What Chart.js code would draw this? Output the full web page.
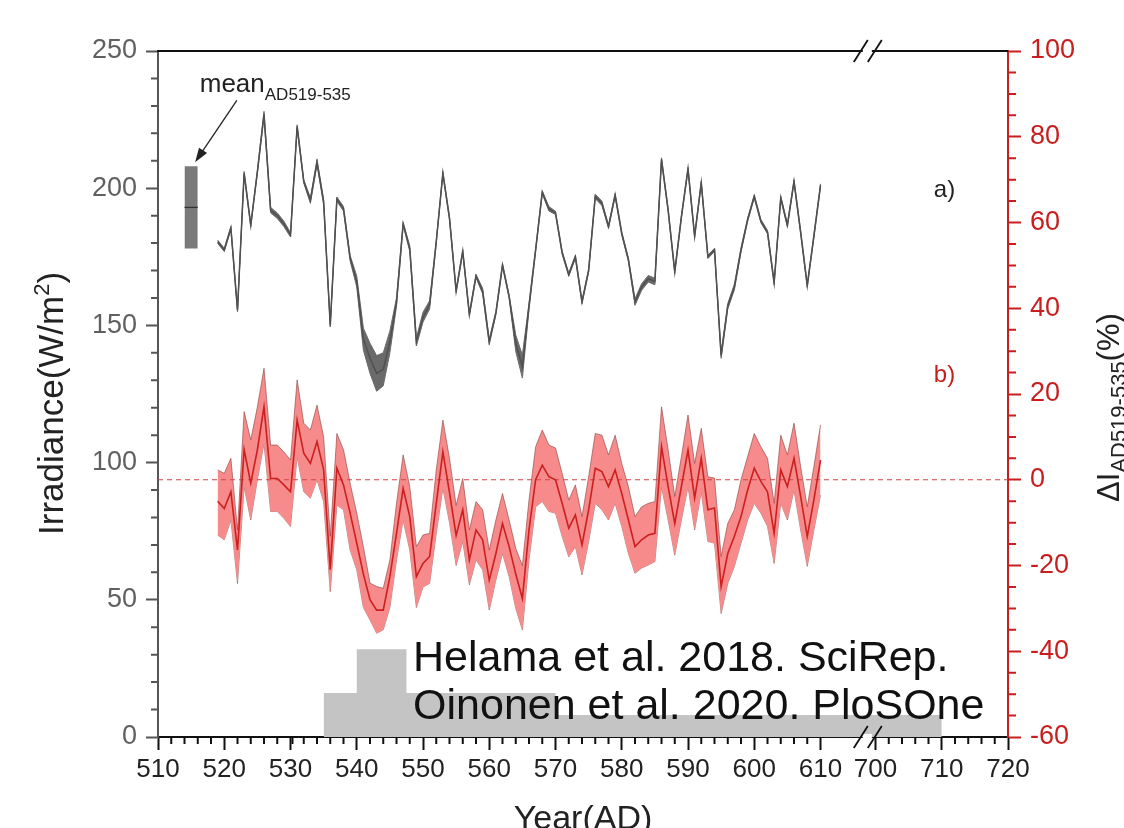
<!DOCTYPE html>
<html>
<head>
<meta charset="utf-8">
<script src="https://cdn.jsdelivr.net/npm/chart.js@4.4.1/dist/chart.umd.min.js"></script>
<style>
  html, body { margin: 0; padding: 0; background: #fff; overflow: hidden; }
  canvas { display: block; }
</style>
</head>
<body>
<canvas id="chart" width="1124" height="828"></canvas>
<script>
const FONT = '"Liberation Sans", Arial, Helvetica, sans-serif';

// ---- data (years 519..610, one value per year) ----
const firstYear = 519;
const irradiance = [180.5, 177.5, 185.5, 155.5, 205.5, 186.5, 206, 227, 192, 190, 187, 183, 222.5, 202.5, 195.5, 209.5, 195, 150, 196, 192.5,
  174.5, 166, 145, 138, 132.5, 134, 144, 158.5, 187, 178, 144, 153, 157.5, 180.5, 205.5, 189, 162.5, 177, 154, 168,
  162.5, 144, 154.5, 172, 160.5, 143.5, 135, 157, 177.5, 198.5, 192.5, 191, 176.5, 168.5, 175, 158.5, 170, 197, 194.5, 186,
  197.5, 183.5, 174, 158.5, 164, 167, 166, 210.5, 192, 169.5, 189.5, 207, 182.5, 202, 175, 177.5, 139, 157, 164, 177.5,
  188.5, 197, 188, 184, 165.5, 196.5, 186.5, 202.5, 184, 164.5, 182.5, 201];
const irradianceHi = [181.1, 178.1, 186.1, 156.1, 206.1, 187.1, 206.6, 228, 193, 191, 188, 183.8, 223.1, 203.1, 196.5, 210.5, 196, 150.6, 196.8, 193.3,
  175.5, 168, 149, 143.5, 139, 140, 148, 160, 187.6, 179, 145.5, 154.8, 159, 181.1, 206.1, 189.6, 163.1, 177.6, 154.6, 168.6,
  163.5, 145, 155.1, 172.6, 161.1, 146.5, 139.2, 158.2, 178.1, 199.1, 193.3, 191.6, 177.1, 169.1, 175.6, 159.1, 170.6, 197.8, 195.3, 186.6,
  198.1, 184.1, 174.6, 159.7, 165.2, 168.2, 167.2, 211.1, 192.6, 170.1, 190.1, 207.6, 183.1, 202.6, 175.6, 178.1, 140, 158, 165, 178.3,
  189.1, 197.6, 188.6, 184.6, 166.1, 197.1, 187.1, 203.1, 184.6, 165.1, 183.1, 201.6];
const irradianceLo = [179.9, 176.9, 184.9, 154.9, 204.9, 185.9, 205.4, 226, 191, 189, 186, 182.2, 221.9, 201.9, 194.5, 208.5, 194, 149.4, 195.2, 191.7,
  173.5, 164, 141, 132.5, 126, 128, 140, 157, 186.4, 177, 142.5, 151.2, 156, 179.9, 204.9, 188.4, 161.9, 176.4, 153.4, 167.4,
  161.5, 143, 153.9, 171.4, 159.9, 140.5, 130.8, 155.8, 176.9, 197.9, 191.7, 190.4, 175.9, 167.9, 174.4, 157.9, 169.4, 196.2, 193.7, 185.4,
  196.9, 182.9, 173.4, 157.3, 162.8, 165.8, 164.8, 209.9, 191.4, 168.9, 188.9, 206.4, 181.9, 201.4, 174.4, 176.9, 138, 156, 163, 176.7,
  187.9, 196.4, 187.4, 183.4, 164.9, 195.9, 185.9, 201.9, 183.4, 163.9, 181.9, 200.4];

const deltaMid = [-5, -6.7, -2.8, -16.4, 7, -0.8, 7, 17, 0.3, 0.3, -1.2, -2.8, 13.9, 6.2, 3.8, 8.9, 2.3, -21, 2.7, -1.2,
  -7.8, -14.8, -22, -28, -30.4, -30.4, -22.6, -12.5, -2, -8.6, -22.6, -19.5, -17.9, -5.5, 6.5, -3, -13, -7, -18.7, -11.7,
  -14, -23.4, -17.2, -10.2, -15.6, -22, -27.7, -11.7, 0, 3.4, 0.7, 0, -5.5, -11.3, -8.2, -15.2, -7, 2.7, 1.9, -1.6,
  2.3, -3.2, -9.4, -15.6, -14, -12.9, -12.5, 7.7, -1.6, -10.2, -1.6, 6.9, -4.3, 5, -7, -6.6, -24.9, -17.2, -13.2, -8.6,
  -2.4, 2.7, -0.4, -2.8, -12.5, 2.3, -1.6, 5, -3.9, -13.2, -4.7, 4.6];
const deltaHi = [2.3, 1.5, 5, -11.7, 15.9, 9.3, 17, 26, 8.1, 8.1, 6.5, 4.6, 23.3, 13.2, 11.6, 17.4, 10, -13.2, 10.8, 7,
  -0.8, -7.8, -15.6, -24.1, -24.9, -25.3, -18.7, -5.5, 5.8, -1.6, -15.6, -12.9, -12.5, 2.3, 13.9, 5, -6, 0.3, -11.7, -5.1,
  -7, -16.4, -9.4, -3.2, -9.4, -16, -20, -4.7, 7.7, 11.6, 8.1, 7.4, 1.5, -4.7, -1.2, -8.6, 0.7, 10.8, 10.4, 5.8,
  10.4, 3.8, -1.6, -8.6, -6.3, -5.5, -5.1, 17, 7, -3.9, 5.4, 15.1, 3.8, 12, 0.7, 0.4, -17.9, -10.2, -7, 0,
  5.4, 10.8, 7.7, 5, -5.5, 10.4, 5.8, 13.2, 3.1, -6.3, 3.1, 12.8];
const deltaLo = [-12.9, -14, -9.4, -24.2, -1.6, -9.4, 0, 8.5, -7.4, -7.4, -9, -10.9, 5.4, -2.8, -4.3, 0, -5.1, -26.1, -5.9, -7,
  -16.4, -21, -29.8, -32.7, -35.8, -35, -29.8, -18.7, -9.4, -16.4, -29.8, -25, -24.2, -12.5, -2, -10, -20, -14.4, -24.5, -18.7,
  -21, -30.4, -23.4, -17.2, -22.6, -30, -35, -18.7, -6.3, -5.1, -7.4, -7.8, -13.2, -18, -15.6, -22.2, -14.4, -5.5, -7, -9.4,
  -5.5, -10.9, -17.2, -21.8, -20.6, -19.9, -19.1, -1.6, -9.4, -17.6, -9.4, -1.6, -11.7, -2.8, -14.4, -14.8, -31.2, -24.2, -20.2, -14.8,
  -9.4, -5.5, -7.8, -10.9, -19.5, -5.5, -9.4, -2.4, -11.7, -20.2, -11.7, -3.6];

// gray histogram (step edges in years, heights on the irradiance axis)
const histEdges = [535, 540, 547.5, 570, 710];
const histHeights = [16, 32, 16, 8, 8];

// mean AD519-535 box
const meanYears = [514, 516];
const meanTop = 208;
const meanBottom = 178;
const meanValue = 193;

// tick labels
const xTickYears = [510, 520, 530, 540, 550, 560, 570, 580, 590, 600, 610, 700, 710, 720];
const xTickLabels = xTickYears.map(String);

// ---- broken x axis: 610..700 squeezed into a small gap ----
const breakFrom = 610, breakTo = 700, breakGap = 8.3;
const toAxis = yr => yr <= breakFrom ? yr : yr - breakTo + breakFrom + breakGap;

const years = irradiance.map((_, i) => firstYear + i);
const pts = vals => vals.map((v, i) => ({ x: toAxis(years[i]), y: v }));

const xMinor = [];
for (let v = 512; v <= 612; v += 2) if (v % 10) xMinor.push(v);
for (let v = 702; v <= 718; v += 2) if (v % 10) xMinor.push(v);

const RED = '#c81e1e';

const decor = {
  id: 'decor',
  afterDraw(chart) {
    const { ctx, chartArea: a, scales: { x, y, y2 } } = chart;
    const px = yr => x.getPixelForValue(toAxis(yr));
    ctx.save();

    // minor ticks
    ctx.lineWidth = 2;
    ctx.strokeStyle = '#111';
    ctx.beginPath();
    xMinor.forEach(v => { const p = px(v); ctx.moveTo(p, a.bottom); ctx.lineTo(p, a.bottom + 7); });
    ctx.stroke();
    ctx.strokeStyle = '#555';
    ctx.beginPath();
    for (let v = 10; v < 250; v += 10) {
      if (v % 50 === 0) continue;
      const p = y.getPixelForValue(v);
      ctx.moveTo(a.left, p); ctx.lineTo(a.left - 7, p);
    }
    ctx.stroke();
    ctx.strokeStyle = RED;
    ctx.beginPath();
    for (let v = -55; v < 100; v += 5) {
      if (v % 20 === 0) continue;
      const p = y2.getPixelForValue(v);
      ctx.moveTo(a.right, p); ctx.lineTo(a.right + 8, p);
    }
    ctx.stroke();

    // top frame line
    ctx.strokeStyle = '#111';
    ctx.beginPath();
    ctx.moveTo(a.left - 1, a.top); ctx.lineTo(a.right, a.top);
    ctx.stroke();

    // axis break marks (top and bottom)
    const bc = x.getPixelForValue(toAxis(breakFrom) + breakGap * 0.86);
    [a.top, a.bottom].forEach(yy => {
      ctx.fillStyle = '#fff';
      ctx.fillRect(bc - 5, yy - 3, 9, 6);
      ctx.strokeStyle = '#111';
      ctx.lineWidth = 1.8;
      ctx.beginPath();
      [-7, 7].forEach(d => {
        ctx.moveTo(bc + d - 7, yy + 11);
        ctx.lineTo(bc + d + 7, yy - 11);
      });
      ctx.stroke();
    });

    ctx.fillStyle = '#222';
    // left axis title
    ctx.save();
    ctx.translate(63, 535);
    ctx.rotate(-Math.PI / 2);
    ctx.textBaseline = 'alphabetic';
    ctx.font = '35px ' + FONT;
    const t1 = 'Irradiance(W/m';
    ctx.fillText(t1, 0, 0);
    let w = ctx.measureText(t1).width;
    ctx.font = '22px ' + FONT;
    ctx.fillText('2', w, -14);
    w += ctx.measureText('2').width;
    ctx.font = '35px ' + FONT;
    ctx.fillText(')', w, 0);
    ctx.restore();

    // right axis title
    ctx.save();
    ctx.translate(1119, 502);
    ctx.rotate(-Math.PI / 2);
    ctx.font = '31px ' + FONT;
    ctx.fillText('ΔI', 0, 0);
    w = ctx.measureText('ΔI').width;
    ctx.font = '22px ' + FONT;
    ctx.fillText('AD519-535', w, 7);
    w += ctx.measureText('AD519-535').width;
    ctx.font = '31px ' + FONT;
    ctx.fillText('(%)', w, 0);
    ctx.restore();

    // bottom axis title
    ctx.font = '34px ' + FONT;
    ctx.textAlign = 'center';
    ctx.fillText('Year(AD)', 583, 829);
    ctx.textAlign = 'left';

    // mean label + arrow
    const mx = px(516.3), my = y.getPixelForValue(235);
    ctx.font = '26px ' + FONT;
    ctx.fillText('mean', mx, my);
    const mw = ctx.measureText('mean').width;
    ctx.font = '17px ' + FONT;
    ctx.fillText('AD519-535', mx + mw, my + 8);

    const ax0 = px(521.9), ay0 = y.getPixelForValue(232);
    const ax1 = px(515.6), ay1 = y.getPixelForValue(209.5);
    const ang = Math.atan2(ay1 - ay0, ax1 - ax0);
    ctx.strokeStyle = '#222';
    ctx.lineWidth = 1.3;
    ctx.beginPath();
    ctx.moveTo(ax0, ay0);
    ctx.lineTo(ax1 - 10 * Math.cos(ang), ay1 - 10 * Math.sin(ang));
    ctx.stroke();
    ctx.beginPath();
    ctx.moveTo(ax1, ay1);
    ctx.lineTo(ax1 - 15 * Math.cos(ang - 0.33), ay1 - 15 * Math.sin(ang - 0.33));
    ctx.lineTo(ax1 - 15 * Math.cos(ang + 0.33), ay1 - 15 * Math.sin(ang + 0.33));
    ctx.closePath();
    ctx.fill();

    // series labels
    ctx.font = '24px ' + FONT;
    ctx.textBaseline = 'middle';
    const lx = x.getPixelForValue(627.1);
    ctx.fillStyle = '#222';
    ctx.fillText('a)', lx, y.getPixelForValue(199.3));
    ctx.fillStyle = RED;
    ctx.fillText('b)', lx, y.getPixelForValue(131.9));

    // citation
    ctx.textBaseline = 'alphabetic';
    ctx.fillStyle = '#111';
    ctx.font = '43px ' + FONT;
    const cx = x.getPixelForValue(548.5);
    ctx.fillText('Helama et al. 2018. SciRep.', cx, y.getPixelForValue(24));
    ctx.fillText('Oinonen et al. 2020. PloSOne', cx, y.getPixelForValue(6.5));

    ctx.restore();
  }
};

const line = (label, data, opts) => Object.assign({
  label, data, pointRadius: 0, tension: 0, borderWidth: 0, fill: false, yAxisID: 'y'
}, opts);

const bandEdge = 'rgba(140,60,60,0.75)';

new Chart(document.getElementById('chart'), {
  type: 'line',
  data: {
    datasets: [
      line('hist', histEdges.map((e, i) => ({ x: toAxis(e), y: histHeights[i] })),
        { stepped: 'before', fill: 'origin', backgroundColor: '#c4c4c4', order: 10 }),
      line('ΔI low', pts(deltaLo), { yAxisID: 'y2', borderColor: bandEdge, borderWidth: 0.8, order: 8 }),
      line('ΔI high', pts(deltaHi), { yAxisID: 'y2', borderColor: bandEdge, borderWidth: 0.8,
        fill: '-1', backgroundColor: '#f78b8b', order: 7 }),
      line('zero', [{ x: 510, y: 0 }, { x: toAxis(720), y: 0 }],
        { yAxisID: 'y2', borderColor: '#d04545', borderWidth: 1, borderDash: [5, 4], order: 6 }),
      line('ΔI', pts(deltaMid), { yAxisID: 'y2', borderColor: '#cc1f1f', borderWidth: 1.6, order: 5 }),
      line('I low', pts(irradianceLo), { borderColor: '#6a6a6a', borderWidth: 1, order: 4 }),
      line('I high', pts(irradianceHi), { borderColor: '#6a6a6a', borderWidth: 1,
        fill: '-1', backgroundColor: '#6a6a6a', order: 3 }),
      line('I', pts(irradiance), { borderColor: '#505050', borderWidth: 1.5, order: 2 }),
      line('mean low', meanYears.map(v => ({ x: v, y: meanBottom })), { order: 1.5 }),
      line('mean high', meanYears.map(v => ({ x: v, y: meanTop })),
        { fill: '-1', backgroundColor: '#7a7a7a', order: 1 }),
      line('mean', meanYears.map(v => ({ x: v, y: meanValue })), { borderColor: '#333', borderWidth: 1.3, order: 0 })
    ]
  },
  options: {
    responsive: false,
    animation: false,
    devicePixelRatio: 1,
    layout: { padding: { top: 51, left: 0, right: 0, bottom: 0 } },
    plugins: { legend: { display: false }, tooltip: { enabled: false } },
    scales: {
      x: {
        type: 'linear', min: 510, max: toAxis(720),
        afterBuildTicks: s => { s.ticks = xTickYears.map(v => ({ value: toAxis(v) })); },
        afterFit: s => { s.height = 91; },
        ticks: { autoSkip: false, maxRotation: 0, color: '#222', padding: 4,
          font: { size: 26, family: FONT }, callback: (v, i) => xTickLabels[i] },
        grid: { drawOnChartArea: false, tickLength: 13, tickWidth: 2, tickColor: '#111' },
        border: { color: '#111', width: 2 }
      },
      y: {
        position: 'left', min: 0, max: 250,
        afterFit: s => { s.width = 158; },
        ticks: { stepSize: 50, color: '#606060', padding: 9, font: { size: 27, family: FONT } },
        grid: { drawOnChartArea: false, tickLength: 12, tickWidth: 2, tickColor: '#555' },
        border: { color: '#555', width: 2 }
      },
      y2: {
        position: 'right', min: -60, max: 100,
        afterFit: s => { s.width = 116; },
        ticks: { stepSize: 20, color: RED, padding: 9, font: { size: 27, family: FONT } },
        grid: { drawOnChartArea: false, tickLength: 13, tickWidth: 2, tickColor: RED },
        border: { color: RED, width: 2 }
      }
    }
  },
  plugins: [decor]
});
</script>
</body>
</html>
